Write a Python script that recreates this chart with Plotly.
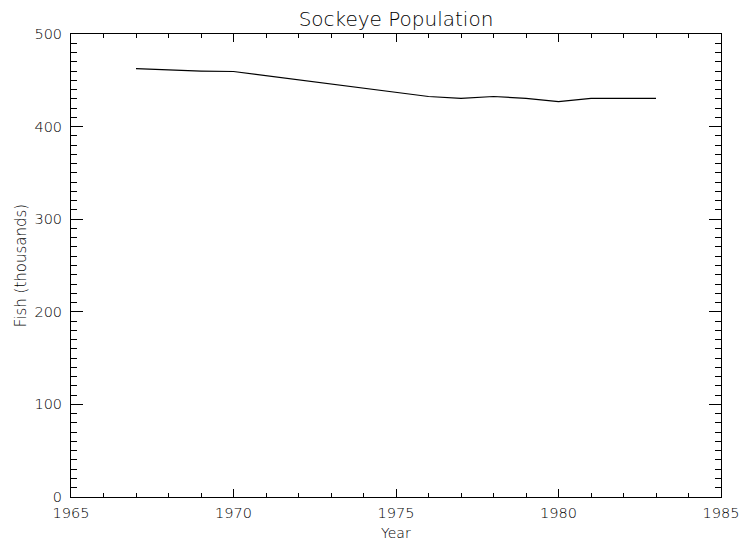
import plotly.graph_objects as go

years = [1967, 1968, 1969, 1970, 1971, 1972, 1973, 1974, 1975,
         1976, 1977, 1978, 1979, 1980, 1981, 1982, 1983]
fish = [462.5, 461, 460, 459.5, 455, 450.5, 446, 441.5, 437.5,
        432.5, 430.5, 432.5, 430.5, 427, 430.5, 430.5, 430.5]

title_text = "Sockeye Population"
x_title = "Year"
y_title = "Fish (thousands)"

FONT = "DejaVu Sans"

fig = go.Figure()
fig.add_trace(go.Scatter(x=years, y=fish, mode="lines",
                         line=dict(color="black", width=1.2),
                         showlegend=False))

axis_common = dict(
    showline=True, linecolor="black", linewidth=1, mirror="ticks",
    ticks="inside", tickcolor="black", tickwidth=1,
    showgrid=False, zeroline=False, automargin=False,
    tickfont=dict(family=FONT, size=14.5, color="black", weight=300),
)

fig.update_layout(
    width=741, height=541,
    margin=dict(l=71, r=20, t=34, b=44),
    paper_bgcolor="white", plot_bgcolor="white",
    title=dict(text=title_text, x=0.5, xref="paper", y=1 - 19 / 541,
               yref="container", xanchor="center", yanchor="middle",
               font=dict(family=FONT, size=20, color="black", weight=300)),
    xaxis=dict(range=[1965, 1985], dtick=5, tick0=1965, ticklen=8,
               minor=dict(dtick=1, ticks="inside", ticklen=4,
                          tickcolor="black", showgrid=False),
               ticklabelstandoff=3,
               **axis_common),
    yaxis=dict(range=[0, 500], dtick=100, tick0=0, ticklen=12,
               minor=dict(dtick=10, ticks="inside", ticklen=6,
                          tickcolor="black", showgrid=False),
               ticklabelstandoff=5,
               title=dict(text=y_title, standoff=4,
                          font=dict(family=FONT, size=15, color="black", weight=300)),
               **axis_common),
    annotations=[dict(text=x_title, x=0.5, xref="paper",
                      y=(497 - 532.5) / 463, yref="paper",
                      xanchor="center", yanchor="middle", showarrow=False,
                      font=dict(family=FONT, size=14, color="black", weight=300))],
)

fig.write_html("out.html", config={"displayModeBar": False},
               post_script="document.body.style.margin='0';document.body.style.overflow='hidden';")
